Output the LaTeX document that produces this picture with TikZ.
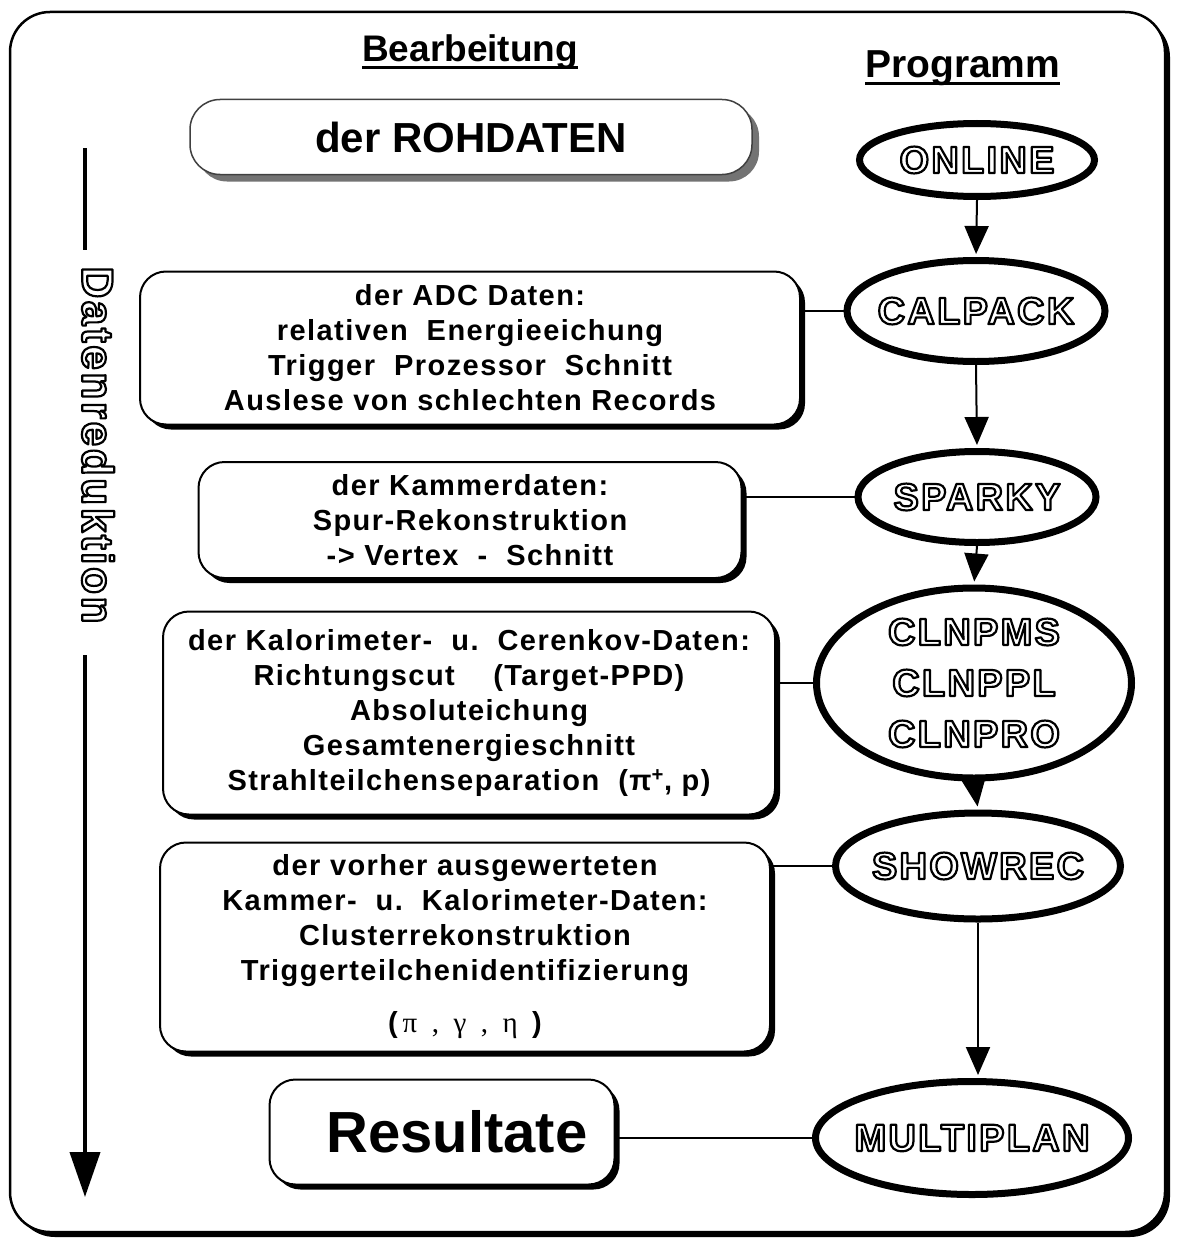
\documentclass[tikz,border=0pt]{standalone}
\usepackage{fontspec}
\setmainfont{Liberation Sans}
\newfontfamily\progfont[LetterSpace=6]{Liberation Sans}
\newfontfamily\boxfont[LetterSpace=5]{Liberation Sans}
\newfontfamily\greekfont{Liberation Serif}
\usetikzlibrary{shapes.geometric,arrows.meta,shadows}

% hollow letters: text rendering mode 1 (stroke only)
\newcommand{\outl}[1]{\special{pdf:literal direct q 1 Tr 2.2 w 1 J 1 j}#1\special{pdf:literal direct Q}}
\newcommand{\pionp}{π\textsuperscript{+}}

\tikzset{
  frame/.style={draw, line width=2.5pt, rounded corners=40pt, fill=white,
    drop shadow={shadow xshift=5pt, shadow yshift=-5pt, fill=black, opacity=1}},
  box/.style={draw, line width=2pt, rounded corners=26pt, fill=white, align=center,
    inner sep=0pt, font=\boxfont\bfseries\fontsize{29}{35}\selectfont,
    drop shadow={shadow xshift=5pt, shadow yshift=-5pt, fill=black, opacity=1}},
  rawbox/.style={draw=black!75, line width=1.5pt, rounded corners=30pt, fill=white,
    inner sep=0pt, font=\bfseries\fontsize{42}{44}\selectfont,
    drop shadow={shadow xshift=7pt, shadow yshift=-7pt, fill=black!55, opacity=1}},
  prog/.style={ellipse, draw, line width=7pt, fill=white, inner sep=0pt},
  progname/.style={font=\progfont\bfseries\fontsize{38}{51}\selectfont, align=center, inner sep=0pt},
  head/.style={font=\bfseries\fontsize{37}{40}\selectfont, inner sep=0pt},
  flow/.style={line width=2pt, shorten >=3pt, -{Triangle[length=28pt,width=24pt]}},
  link/.style={line width=2pt}
}

\begin{document}
\begin{tikzpicture}[x=1pt,y=-1pt]
\useasboundingbox (0,0) rectangle (1178,1244);

\draw[frame] (10,12) rectangle (1165,1232);

% headings
\node[head, anchor=base west] (bearb) at (362,62) {Bearbeitung\hspace{30pt}};
\draw[line width=3pt] ([yshift=-6pt]bearb.base west) -- ([yshift=-6pt]bearb.base east);
\node[head, anchor=base west, font=\bfseries\fontsize{39}{40}\selectfont] (progr) at (865,78) {Programm};
\draw[line width=3pt] ([yshift=-6pt]progr.base west) -- ([yshift=-6pt]progr.base east);

% Datenreduktion
\coordinate (dtop) at (85,148);
\coordinate (dtopend) at (85,250);
\node[rotate=-90, inner sep=0pt, font=\progfont\bfseries\fontsize{44}{44}\selectfont] (datred) at (98,445) {\outl{Datenreduktion}};
\coordinate (dbot) at (85,655);
\coordinate (dtip) at (85,1197);
\draw[line width=4pt] (dtop) -- (dtopend);
\draw[line width=4pt,-{Triangle[length=45pt,width=30pt]}] (dbot) -- (dtip);

% Bearbeitung
\node[rawbox, minimum width=562, minimum height=75] (roh) at (471,137) {der ROHDATEN};
\node[box, minimum width=660, minimum height=153] (adc) at (470,348) {der ADC Daten:\\relativen\ \ Energieeichung\\Trigger\ \ Prozessor\ \ Schnitt\\Auslese von schlechten Records};
\node[box, minimum width=543, minimum height=116] (kam) at (470,520) {der Kammerdaten:\\Spur-Rekonstruktion\\-> Vertex\ \ -\ \ Schnitt};
\node[box, minimum width=612, minimum height=203] (kalo) at (469,713) {der Kalorimeter-\ \ u.\ \ Cerenkov-Daten:\\Richtungscut\quad\ (Target-PPD)\\Absoluteichung\\Gesamtenergieschnitt\\Strahlteilchenseparation\ \ (\pionp, p)};
\node[box, minimum width=610, minimum height=209] (vorh) at (465,947) {der vorher ausgewerteten\\Kammer-\ \ u.\ \ Kalorimeter-Daten:\\Clusterrekonstruktion\\Triggerteilchenidentifizierung\\[17pt](\,{\greekfont\mdseries π\ \ ,\ \ γ\ \ ,\ \ η}\ \,)};
\node[box, minimum width=345, minimum height=105, font=\bfseries\fontsize{58}{60}\selectfont] (res) at (442,1132) {\hspace{30pt}Resultate};

% Programme
\node[prog, minimum width=235, minimum height=73] (online) at (977,160) {};
\node[progname] (online-t) at (online) {\outl{ONLINE}};
\node[prog, minimum width=258, minimum height=101] (calpack) at (976,311) {};
\node[progname] (calpack-t) at (calpack) {\outl{CALPACK}};
\node[prog, minimum width=238, minimum height=91] (sparky) at (977,497) {};
\node[progname] (sparky-t) at (sparky) {\outl{SPARKY}};
\node[prog, minimum width=315, minimum height=190] (cln) at (974,683) {};
\node[progname] (cln-t) at (cln) {\outl{CLNPMS}\\\outl{CLNPPL}\\\outl{CLNPRO}};
\node[prog, minimum width=285, minimum height=106] (showrec) at (978,866) {};
\node[progname] (showrec-t) at (showrec) {\outl{SHOWREC}};
\node[prog, minimum width=313, minimum height=113] (multi) at (972,1138) {};
\node[progname] (multi-t) at (multi) {\outl{MULTIPLAN}};

\draw[flow] (online.south) -- (calpack.north);
\draw[flow] (calpack.south) -- (sparky.north);
\draw[flow] (sparky.south) -- (cln.north);
\draw[flow] (cln.south) -- (showrec.north);
\draw[flow] (showrec.south) -- (showrec.south |- multi.north);

\draw[link] (adc.east |- calpack) -- (calpack.west);
\draw[link] (kam.east |- sparky) -- (sparky.west);
\draw[link] (kalo.east |- cln) -- (cln.west);
\draw[link] (vorh.east |- showrec) -- (showrec.west);
\draw[link] (res.east |- multi) -- (multi.west);
\end{tikzpicture}
\end{document}
